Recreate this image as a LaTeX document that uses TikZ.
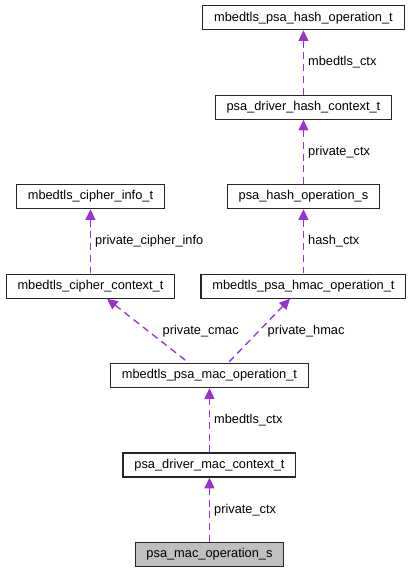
\documentclass[tikz,border=0pt]{standalone}
\usepackage{fontspec}
\setmainfont{Liberation Sans}
\usetikzlibrary{positioning,arrows.meta}
\definecolor{edgecol}{HTML}{9A32CD}
\tikzset{
  box/.style={draw=black!85,line width=0.9pt,inner xsep=8.5pt,minimum height=18pt,font=\fontsize{9.6}{11}\selectfont},
  edge/.style={{Triangle[length=8pt,width=7.5pt]}-,draw=edgecol,line width=1pt,dash pattern=on 5.2pt off 3.6pt},
  lbl/.style={anchor=west,inner sep=0pt,xshift=3pt,font=\fontsize{9.6}{11}\selectfont}
}
\begin{document}
\begin{tikzpicture}[node distance=48.2pt]
\useasboundingbox (0,0) rectangle (309.75pt,-429.75pt);

\node [box,fill=black!25] (macs) at (157.1pt,-415.9pt) {psa\_mac\_operation\_s};
\node [box,above=of macs] (drvmac) {psa\_driver\_mac\_context\_t};
\node [box,above=of drvmac] (mact) {mbedtls\_psa\_mac\_operation\_t};
\node [box,above=of mact,xshift=70.5pt] (hmac) {mbedtls\_psa\_hmac\_operation\_t};
\node [box,above=of mact,xshift=-89.25pt] (cctx) {mbedtls\_cipher\_context\_t};
\node [box,above=of cctx] (cinfo) {mbedtls\_cipher\_info\_t};
\node [box,above=of hmac] (hashs) {psa\_hash\_operation\_s};
\node [box,above=of hashs] (drvhash) {psa\_driver\_hash\_context\_t};
\node [box,above=of drvhash] (hashop) {mbedtls\_psa\_hash\_operation\_t};

\draw [edge] (hashop) -- (drvhash) node [midway,lbl] {mbedtls\_ctx};
\draw [edge] (drvhash) -- (hashs) node [midway,lbl] {private\_ctx};
\draw [edge] (hashs) -- (hmac) node [midway,lbl] {hash\_ctx};
\draw [edge] (cinfo) -- (cctx) node [midway,lbl] {private\_cipher\_info};
\draw [edge] ([xshift=12.4pt]cctx.south) -- ([xshift=-15.4pt]mact.north) node [midway,lbl,xshift=7.5pt] {private\_cmac};
\draw [edge] ([xshift=-10.1pt]hmac.south) -- ([xshift=13.9pt]mact.north) node [midway,lbl,xshift=3pt] {private\_hmac};
\draw [edge] (mact) -- (drvmac) node [midway,lbl] {mbedtls\_ctx};
\draw [edge] (drvmac) -- (macs) node [midway,lbl] {private\_ctx};
\end{tikzpicture}
\end{document}
